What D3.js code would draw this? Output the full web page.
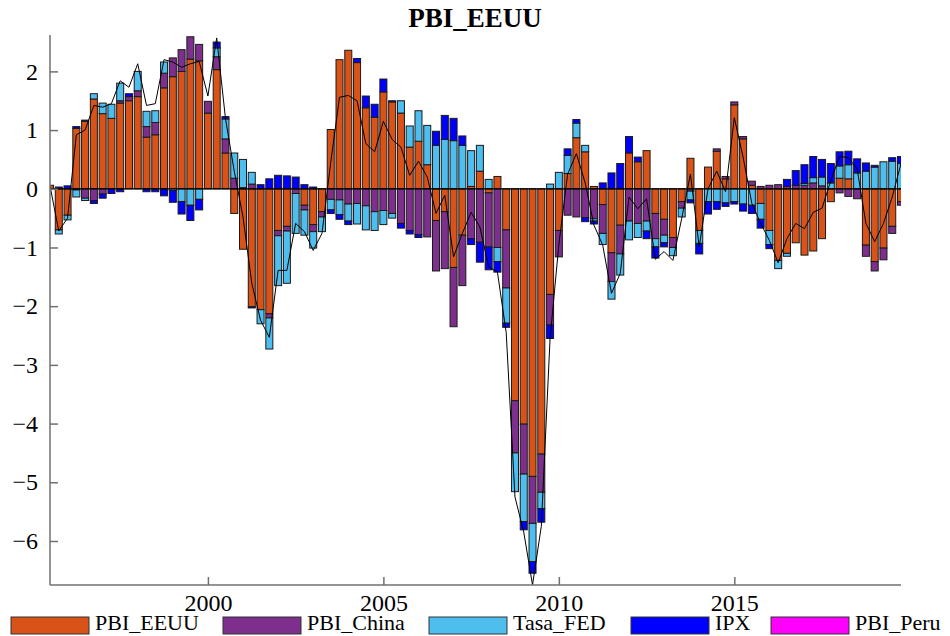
<!DOCTYPE html>
<html>
<head>
<meta charset="utf-8">
<script src="https://cdn.jsdelivr.net/npm/d3@7/dist/d3.min.js"></script>
<style>
  body { margin: 0; background: #fff; }
  svg { display: block; }
</style>
</head>
<body>
<script>
// Quarterly sample: 1995.5 .. 2019.75
const firstQuarter = 1995.5;
const nQuarters = 98;
const quarters = d3.range(nQuarters).map(i => firstQuarter + i * 0.25);

// Shock contributions to US GDP (historical decomposition)
const PBI_EEUU = [
  0.06,-0.70,-0.45,1.03,1.15,1.53,1.28,1.20,1.46,1.50,
  1.57,0.88,0.92,1.72,1.91,2.00,2.21,2.18,1.29,2.03,
  0.61,-0.42,-1.03,-2.01,-2.06,-2.13,-0.71,-0.64,0.00,-0.28,
  -0.61,-0.39,1.01,2.20,2.36,2.15,1.38,1.22,1.65,1.48,
  1.29,0.71,0.81,0.41,-0.54,-0.39,-1.34,-0.79,0.04,0.30,
  -0.07,0.21,-0.70,-3.61,-4.01,-4.90,-4.52,-1.80,-0.71,0.26,
  0.87,0.63,0.04,-0.27,-1.09,-0.62,0.61,0.46,0.65,-0.42,
  -0.52,-0.83,-0.22,0.52,-0.71,0.37,0.64,0.17,1.43,0.85,
  0.06,-0.25,-0.71,-1.22,-1.10,-0.92,-1.13,-1.06,-0.85,-0.22,
  0.18,0.17,0.00,-0.96,-1.24,-1.01,-0.64,-0.22
];
const PBI_China = [
  0.00,0.00,0.00,-0.02,-0.16,-0.20,-0.09,0.00,0.04,0.07,
  0.10,0.18,0.21,0.25,0.32,0.37,0.38,0.28,0.20,0.22,
  0.24,0.18,0.02,0.08,0.00,-0.07,-0.09,-0.08,-0.08,-0.08,
  -0.12,-0.09,-0.18,-0.19,-0.26,-0.25,-0.29,-0.39,-0.37,-0.42,
  -0.59,-0.71,-0.78,-0.82,-0.86,-0.97,-1.01,-0.86,-0.85,-0.91,
  -0.92,-1.00,-0.99,-0.89,-0.85,-0.80,-0.65,-0.52,-0.45,-0.45,
  -0.48,-0.49,-0.51,-0.49,-0.49,-0.49,-0.55,-0.59,-0.55,-0.43,
  -0.27,-0.17,-0.11,-0.04,0.00,0.00,0.04,0.04,0.05,0.04,
  0.07,0.04,0.06,0.07,0.04,0.06,0.06,0.10,0.05,0.00,
  -0.07,-0.13,-0.17,-0.19,-0.16,-0.20,-0.12,-0.06
];
const Tasa_FED = [
  0.00,-0.07,-0.08,-0.12,-0.04,0.09,0.18,0.24,0.30,0.00,
  0.33,0.26,0.20,0.19,-0.03,-0.22,-0.28,-0.18,0.00,0.15,
  0.34,0.43,0.48,0.20,-0.24,-0.53,-0.85,-0.89,-0.68,-0.43,
  -0.28,-0.25,-0.18,-0.25,-0.29,-0.35,-0.41,-0.32,-0.24,-0.08,
  0.21,0.36,0.52,0.67,0.74,0.84,0.82,0.74,0.61,0.44,
  0.16,-0.24,-0.60,-0.66,-0.81,-0.65,-0.28,0.08,0.28,0.31,
  0.25,0.11,-0.04,-0.19,-0.30,-0.36,-0.32,-0.24,-0.17,-0.14,
  -0.13,-0.14,-0.15,-0.15,-0.22,-0.22,-0.22,-0.24,-0.22,-0.26,
  -0.28,-0.27,-0.24,-0.14,-0.05,0.00,0.03,0.09,0.15,0.10,
  0.21,0.24,0.27,0.30,0.37,0.46,0.47,0.43
];
const IPX = [
  0.00,0.03,0.05,0.03,0.02,-0.05,-0.07,-0.08,-0.05,0.05,
  0.00,-0.05,-0.05,-0.12,-0.20,-0.21,-0.26,-0.18,0.00,0.10,
  0.04,0.00,0.00,-0.02,0.07,0.17,0.23,0.22,0.20,0.07,
  0.03,0.00,-0.06,-0.08,-0.06,0.07,0.20,0.22,0.22,0.02,
  -0.08,-0.06,-0.05,0.00,0.24,0.41,0.38,0.16,-0.10,-0.34,
  -0.39,-0.18,-0.07,0.00,-0.14,-0.20,-0.23,-0.23,0.00,0.11,
  0.06,-0.07,-0.05,0.10,0.27,0.43,0.28,0.08,-0.13,-0.19,
  -0.07,0.00,0.00,-0.05,-0.18,-0.21,-0.13,-0.06,-0.04,-0.12,
  -0.14,-0.15,-0.07,0.00,0.12,0.25,0.32,0.36,0.30,0.33,
  0.24,0.23,0.24,0.14,0.03,0.00,0.06,0.12
];
const PBI_Peru = [
  0,0,0,0,0,0,0,0,0,0, 0,0,0,0,0,0,0,0,0,0,
  0,0,0,0,0,0,0,0,0,0, 0,0,0,0,0,0,0,0,0,0,
  0,0,0,0,0,0,0,0,0,0, 0,0,0,0,0,0,0,0,0,0,
  0,0,0,0,0,0,0,0,0,0, 0,0,0,0,0,0,0,0,0,0,
  0,0,0,0,0,0,0,0,0,0, 0,0,0,0,0,0,0,0
];
// Observed series (black line)
const observed = [
  0.05,-0.72,-0.50,0.92,1.00,1.42,1.39,1.45,1.84,1.73,
  2.13,1.42,1.45,2.20,2.16,2.07,2.13,2.17,1.58,2.57,
  1.20,0.30,-0.48,-1.61,-2.24,-2.53,-1.39,-1.39,-0.59,-0.73,
  -1.05,-0.76,0.45,1.56,1.59,1.50,0.77,0.63,1.15,0.84,
  0.71,0.23,0.47,0.20,-0.42,-0.11,-1.16,-0.76,-0.40,-0.65,
  -1.33,-1.42,-2.45,-5.25,-5.85,-6.75,-5.75,-2.55,-0.95,0.25,
  0.60,0.10,-0.62,-0.96,-1.78,-1.44,-0.14,-0.34,-0.17,-1.20,
  -1.07,-1.22,-0.51,0.25,-0.99,0.00,0.30,-0.05,1.21,0.54,
  -0.25,-0.59,-0.88,-1.26,-0.85,-0.59,-0.68,-0.40,-0.33,0.14,
  0.55,0.53,0.34,-0.59,-0.90,-0.59,-0.14,0.43
];

const seriesNames = ["PBI_EEUU", "PBI_China", "Tasa_FED", "IPX", "PBI_Peru"];
const seriesValues = [PBI_EEUU, PBI_China, Tasa_FED, IPX, PBI_Peru];
const seriesColors = ["#D95319", "#7E2F8E", "#4DBEEE", "#0000FF", "#FF00FF"];
const yTicks = [-6, -5, -4, -3, -2, -1, 0, 1, 2];
const xTicks = [2000, 2005, 2010, 2015];
const chartTitle = "PBI_EEUU";

const W = 950, H = 636;
const plot = { left: 50, right: 901, top: 35, bottom: 585 };
const serif = "'Liberation Serif', 'Times New Roman', serif";

const svg = d3.select("body").append("svg")
  .attr("width", W).attr("height", H)
  .style("font-family", serif);

const x = d3.scaleLinear()
  .domain([quarters[0], quarters[quarters.length - 1]])
  .range([plot.left, plot.right]);
const y = d3.scaleLinear()
  .domain([-6.75, 2.62])
  .range([plot.bottom, plot.top]);

svg.append("defs").append("clipPath").attr("id", "plotClip")
  .append("rect")
  .attr("x", plot.left).attr("y", plot.top)
  .attr("width", plot.right - plot.left).attr("height", plot.bottom - plot.top);

// Stack positive and negative contributions separately, series order outward from zero
const segments = [];
quarters.forEach((q, i) => {
  let pos = 0, neg = 0;
  seriesValues.forEach((vals, k) => {
    const v = vals[i];
    if (v === 0) return;
    if (v > 0) { segments.push({ q, k, y0: pos, y1: pos + v }); pos += v; }
    else { segments.push({ q, k, y0: neg, y1: neg + v }); neg += v; }
  });
});
segments.sort((a, b) => a.k - b.k);

const barW = 0.8 * 0.25;
const gPlot = svg.append("g").attr("clip-path", "url(#plotClip)");

gPlot.selectAll("rect.seg").data(segments).join("rect")
  .attr("class", "seg")
  .attr("x", d => x(d.q - barW / 2))
  .attr("width", d => x(d.q + barW / 2) - x(d.q - barW / 2))
  .attr("y", d => y(Math.max(d.y0, d.y1)))
  .attr("height", d => Math.abs(y(d.y0) - y(d.y1)))
  .attr("fill", d => seriesColors[d.k])
  .attr("stroke", "#1a1a1a")
  .attr("stroke-width", 1);

// Baseline
gPlot.append("line")
  .attr("x1", plot.left).attr("x2", plot.right)
  .attr("y1", y(0)).attr("y2", y(0))
  .attr("stroke", "#000").attr("stroke-width", 1.2);

// Observed line
gPlot.append("path")
  .datum(observed)
  .attr("fill", "none")
  .attr("stroke", "#000")
  .attr("stroke-width", 1)
  .attr("d", d3.line().x((d, i) => x(quarters[i])).y(d => y(d)));

// Axes
const axisColor = "#707070";
const yAxis = svg.append("g").attr("transform", `translate(${plot.left},0)`)
  .call(d3.axisLeft(y).tickValues(yTicks).tickSize(-8).tickPadding(12).tickFormat(d3.format("d")));
const xAxis = svg.append("g").attr("transform", `translate(0,${plot.bottom})`)
  .call(d3.axisBottom(x).tickValues(xTicks).tickSize(-8).tickPadding(9).tickFormat(d3.format("d")));
[yAxis, xAxis].forEach(g => {
  g.select(".domain").attr("stroke", axisColor).attr("stroke-width", 1.5);
  g.selectAll(".tick line").attr("stroke", axisColor).attr("stroke-width", 1.5);
  g.selectAll("text").attr("fill", "#000").style("font-size", "24px")
    .style("font-family", serif);
});
yAxis.select(".domain").attr("d", `M0,${plot.top}V${plot.bottom}`);
xAxis.select(".domain").attr("d", `M${plot.left},0H${plot.right}`);

// Title
svg.append("text")
  .attr("x", 475).attr("y", 27)
  .attr("text-anchor", "middle")
  .style("font-size", "27px").style("font-weight", "bold")
  .text(chartTitle);

// Legend
const legendX = [11, 223, 429, 631, 771];
const legend = svg.append("g");
seriesNames.forEach((name, k) => {
  legend.append("rect")
    .attr("x", legendX[k]).attr("y", 617)
    .attr("width", 78).attr("height", 17)
    .attr("fill", seriesColors[k])
    .attr("stroke", "#333").attr("stroke-width", 1);
  legend.append("text")
    .attr("x", legendX[k] + 84).attr("y", 630)
    .style("font-size", "22px")
    .text(name);
});
</script>
</body>
</html>
